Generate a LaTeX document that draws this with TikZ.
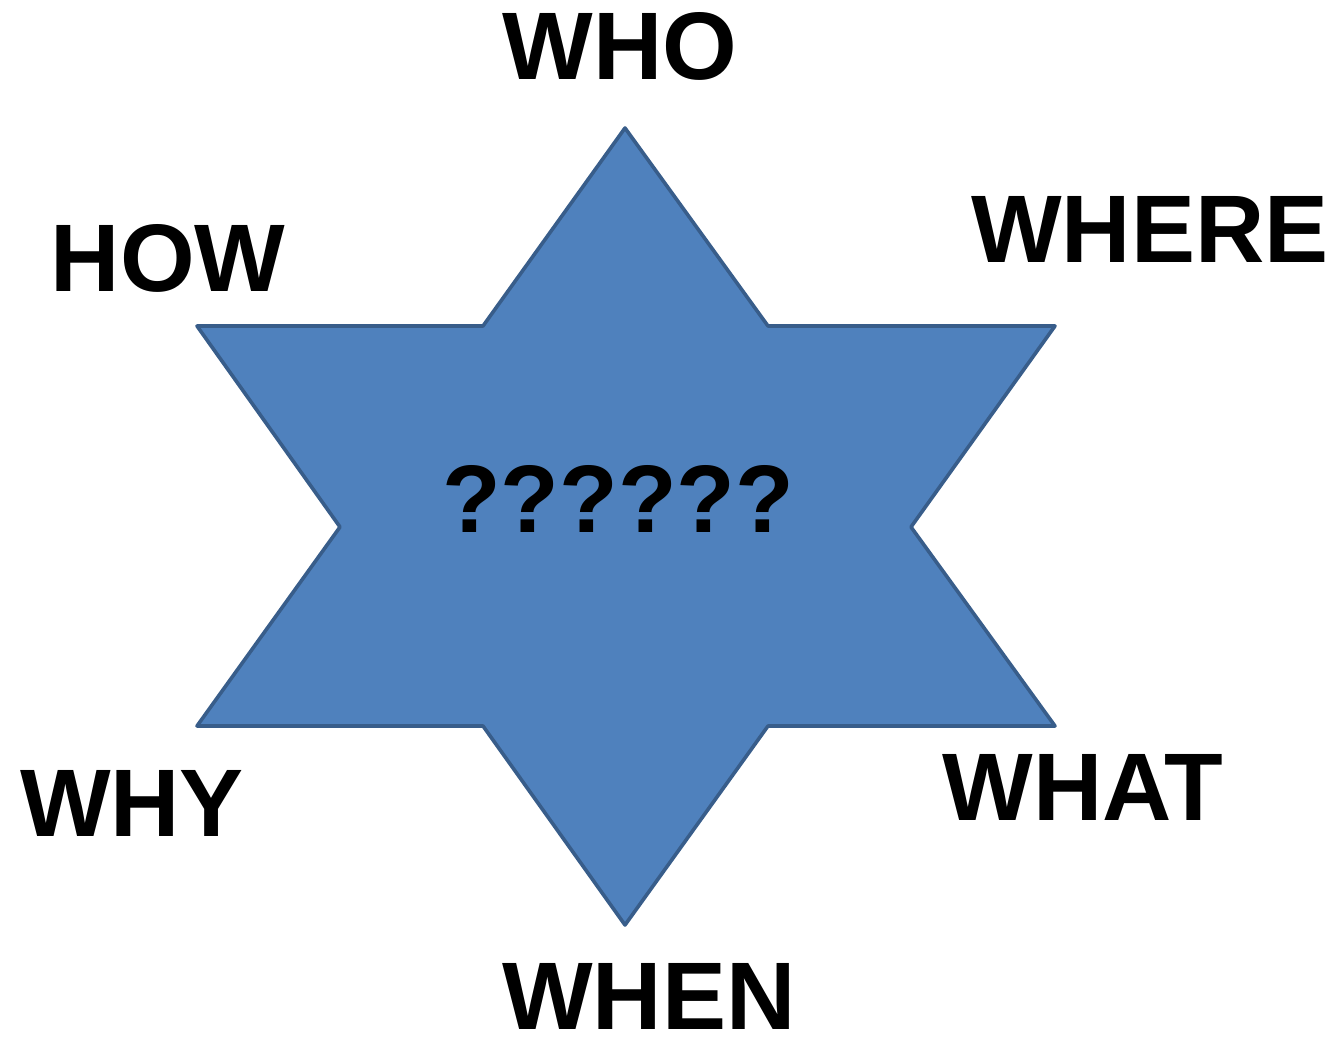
\documentclass[tikz,border=0pt]{standalone}
\usepackage{fontspec}
\setmainfont{Liberation Sans}
\definecolor{starfill}{HTML}{4F81BD}
\definecolor{starline}{HTML}{385D8A}
\newcommand{\wfont}{\fontsize{48}{56}\selectfont\bfseries}

\begin{document}
\begin{tikzpicture}[x=0.5pt,y=-0.5pt,
  word/.style={inner sep=0pt,anchor=base,font=\wfont}]
\useasboundingbox (0,0) rectangle (1334,1037);
\fill[starfill,draw=starline,line width=1.8pt,line join=round]
  (625,128) -- (768,326) -- (1055,326) -- (911,527) -- (1055,726) -- (768,726)
  -- (625,925) -- (483,726) -- (197,726) -- (340,527) -- (197,326) -- (483,326) -- cycle;
\node[word] (who) at (620,80) {WHO};
\node[word] (where) at (1150,263) {WHERE};
\node[word] (how) at (168,292) {HOW};
\node[word] (why) at (132,836) {WHY};
\node[word] (what) at (1083,820) {WHAT};
\node[word] (when) at (649,1029) {WHEN};
\node[word] (ques) at (618,532) {??????};
\end{tikzpicture}
\end{document}
